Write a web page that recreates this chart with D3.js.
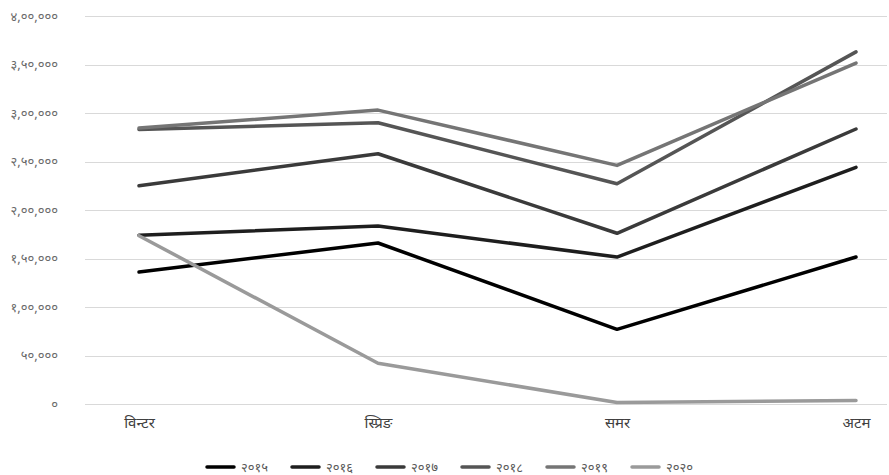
<!DOCTYPE html>
<html>
<head>
<meta charset="utf-8">
<script src="https://cdn.jsdelivr.net/npm/d3@7/dist/d3.min.js"></script>
<style>
  html, body { margin: 0; padding: 0; background: #fff; }
  svg { display: block; }
  text { font-family: "Noto Sans", "DejaVu Sans", sans-serif; }
</style>
</head>
<body>
<svg id="chart" width="889" height="475"></svg>
<script>
const categories = ["विन्टर", "स्प्रिङ", "समर", "अटम"];
const seriesNames = ["२०१५", "२०१६", "२०१७", "२०१८", "२०१९", "२०२०"];
const s2015 = [136000, 166000, 77000, 151500];
const s2016 = [174000, 183500, 151500, 244000];
const s2017 = [225000, 258000, 176000, 283500];
const s2018 = [283000, 290000, 227000, 363000];
const s2019 = [284500, 303000, 246000, 351500];
const s2020 = [173500, 42000, 1500, 3500];
const tickValues = [0, 50000, 100000, 150000, 200000, 250000, 300000, 350000, 400000];
const tickLabels = ["०", "५०,०००", "१,००,०००", "१,५०,०००", "२,००,०००", "२,५०,०००", "३,००,०००", "३,५०,०००", "४,००,०००"];

const seriesValues = [s2015, s2016, s2017, s2018, s2019, s2020];
const colors = ["#000000", "#1e1e1e", "#3a3a3a", "#555555", "#757575", "#9a9a9a"];

const svg = d3.select("#chart");
const x = d3.scalePoint().domain(categories).range([139, 856]);
const y = d3.scaleLinear().domain([0, 400000]).range([404, 16]);

// gridlines
svg.append("g").selectAll("line").data(tickValues).join("line")
  .attr("x1", 85).attr("x2", 887)
  .attr("y1", d => Math.round(y(d)) + 0.5).attr("y2", d => Math.round(y(d)) + 0.5)
  .attr("stroke", "#d9d9d9").attr("stroke-width", 1);

// y axis labels
const yAxis = d3.axisLeft(y).tickValues(tickValues)
  .tickFormat((d, i) => tickLabels[i]).tickSize(0).tickPadding(0);
const gy = svg.append("g").attr("transform", "translate(58,0)").call(yAxis);
gy.select(".domain").remove();
gy.selectAll("text").attr("fill", "#6a6a6a").style("font-size", "13px");

// x axis labels
const xAxis = d3.axisBottom(x).tickSize(0).tickPadding(0);
const gx = svg.append("g").attr("transform", "translate(0,417)").call(xAxis);
gx.select(".domain").remove();
gx.selectAll("text").attr("fill", "#404040").style("font-size", "15px");

// lines
const line = d3.line().x((d, i) => x(categories[i])).y(d => y(d));
svg.append("g").selectAll("path").data(seriesValues).join("path")
  .attr("d", d => line(d))
  .attr("fill", "none")
  .attr("stroke", (d, i) => colors[i])
  .attr("stroke-width", 3.5)
  .attr("stroke-linejoin", "round")
  .attr("stroke-linecap", "round");

// legend
const legendX = d3.scaleBand().domain(seriesNames).range([207, 717]);
const lg = svg.append("g").selectAll("g").data(seriesNames).join("g")
  .attr("transform", d => `translate(${legendX(d)},467)`);
lg.append("line").attr("x1", 0).attr("x2", 27).attr("y1", 0).attr("y2", 0)
  .attr("stroke", (d, i) => colors[i]).attr("stroke-width", 3.5).attr("stroke-linecap", "round");
lg.append("text").attr("x", 34).attr("y", 0).attr("dy", "0.35em")
  .attr("fill", "#595959").style("font-size", "13px").text(d => d);
</script>
</body>
</html>
